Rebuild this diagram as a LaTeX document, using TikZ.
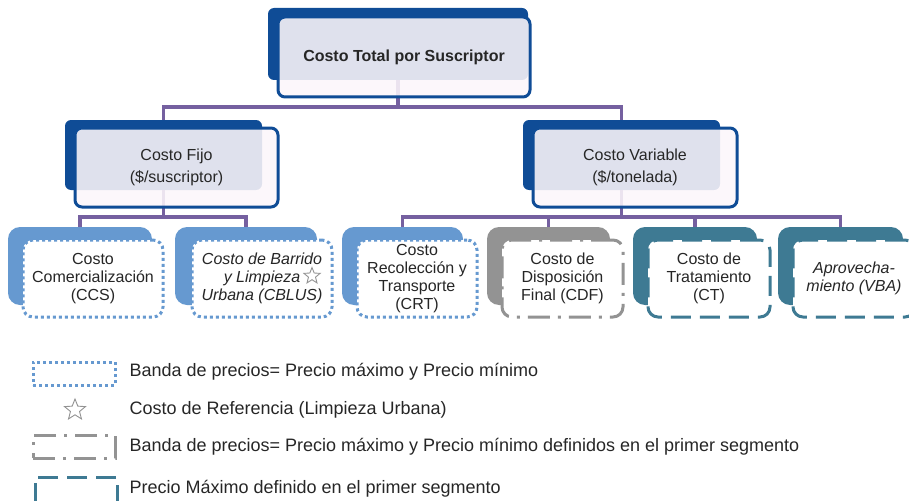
\documentclass[tikz,border=0pt]{standalone}
\usepackage{fontspec}
\setmainfont{Liberation Sans}
\usetikzlibrary{shapes.geometric}
\definecolor{darkblue}{HTML}{0F4C96}
\definecolor{lightblue}{HTML}{6699D0}
\definecolor{midgray}{HTML}{939393}
\definecolor{tealc}{HTML}{3E7A93}
\definecolor{connc}{HTML}{7560A0}
\definecolor{textc}{HTML}{262626}
\definecolor{veil}{RGB}{252,246,250}

\begin{document}
\begin{tikzpicture}[x=1pt,y=-1pt,font=\fontsize{16}{18}\selectfont,text=textc]
  \tikzstyle{backbig} = [rectangle, fill=darkblue, rounded corners=6pt, inner sep=0pt]
  \tikzstyle{frontbig} = [rectangle, draw=darkblue, line width=3pt, fill=veil, fill opacity=0.88,
                          text opacity=1, rounded corners=7pt, align=center, inner sep=0pt]
  \tikzstyle{backsmall} = [rectangle, rounded corners=12pt, inner sep=0pt, minimum height=78pt]
  \tikzstyle{frontsmall} = [rectangle, fill=white, line width=3pt, rounded corners=10pt,
                            align=center, inner sep=0pt, minimum height=77pt]
  \tikzstyle{banddots} = [draw=lightblue, dash pattern=on 3pt off 3pt]
  \tikzstyle{bandgray} = [draw=midgray, dash pattern=on 22pt off 8pt on 3pt off 8pt]
  \tikzstyle{maxdash} = [draw=tealc, dash pattern=on 20pt off 9pt]
  \tikzstyle{conn} = [draw=connc, line width=3.5pt]
  \tikzstyle{refstar} = [star, star points=5, star point ratio=2.3, draw=midgray, fill=white,
                         line width=0.9pt, inner sep=0pt]
  \tikzstyle{keytext} = [anchor=west, font=\fontsize{18}{20}\selectfont]
\useasboundingbox (0,0) rectangle (909,500);

% top level
\node[backbig, minimum width=260pt, minimum height=72pt] (totalb) at (398,44) {};
% second level
\node[backbig, minimum width=197pt, minimum height=70pt] (fijob) at (163.5,155) {};
\node[backbig, minimum width=197pt, minimum height=70pt] (varb) at (621.5,155) {};
% third level
\node[backsmall, fill=lightblue, minimum width=144pt] (ccsb) at (80,266) {};
\node[backsmall, fill=lightblue, minimum width=142pt] (cblusb) at (246,266) {};
\node[backsmall, fill=lightblue, minimum width=121pt] (crtb) at (402.5,266) {};
\node[backsmall, fill=midgray, minimum width=123pt] (cdfb) at (548.5,266) {};
\node[backsmall, fill=tealc, minimum width=124pt] (ctb) at (695,266) {};
\node[backsmall, fill=tealc, minimum width=125pt] (vbab) at (840.5,266) {};

\draw[conn] (totalb.south) -- ++(0,27) -| (fijob.north);
\draw[conn] (totalb.south) -- ++(0,27) -| (varb.north);
\draw[conn] (fijob.south) -- ++(0,27) -| (ccsb.north);
\draw[conn] (fijob.south) -- ++(0,27) -| (cblusb.north);
\draw[conn] (varb.south) -- ++(0,27) -| (crtb.north);
\draw[conn] (varb.south) -- ++(0,27) -| (cdfb.north);
\draw[conn] (varb.south) -- ++(0,27) -| (ctb.north);
\draw[conn] (varb.south) -- ++(0,27) -| (vbab.north);

\node[frontbig, minimum width=252pt, minimum height=80pt] (total) at (404,57)
  {\bfseries Costo Total por Suscriptor};
\node[frontbig, minimum width=203pt, minimum height=79pt] (fijo) at (176.5,167.5)
  {Costo Fijo\\[4pt](\$/suscriptor)};
\node[frontbig, minimum width=204pt, minimum height=79pt] (var) at (635,167.5)
  {Costo Variable\\[4pt](\$/tonelada)};

\node[frontsmall, banddots, minimum width=140pt] (ccs) at (93,278.5)
  {Costo\\Comercialización\\(CCS)};
\node[frontsmall, banddots, minimum width=140pt] (cblus) at (262,278.5)
  {\itshape Costo de Barrido\\\itshape y Limpieza\hspace{18pt}\\\itshape Urbana (CBLUS)};
\node[frontsmall, banddots, minimum width=120pt] (crt) at (417,278.5)
  {Costo\\Recolección y\\Transporte\\(CRT)};
\node[frontsmall, bandgray, minimum width=121pt] (cdf) at (562.5,278.5)
  {Costo de\\Disposición\\Final (CDF)};
\node[frontsmall, maxdash, minimum width=122pt] (ct) at (709,278.5)
  {Costo de\\Tratamiento\\(CT)};
\node[frontsmall, maxdash, minimum width=122pt] (vba) at (854,278.5)
  {\itshape Aprovecha-\\\itshape miento (VBA)};
\node[refstar, minimum size=17pt] (star) at (312,276) {};

% legend
\node[rectangle, banddots, line width=3pt, minimum width=82pt, minimum height=23pt] (keyband) at (74,373.5) {};
\node[keytext] (txtband) at (126,372) {Banda de precios= Precio máximo y Precio mínimo};
\node[refstar, minimum size=22pt] (keystar) at (75,410) {};
\node[keytext] (txtstar) at (126,410) {Costo de Referencia (Limpieza Urbana)};
\node[rectangle, bandgray, line width=3pt, minimum width=82pt, minimum height=23pt] (keygray) at (74,446.5) {};
\node[keytext] (txtgray) at (126,447) {Banda de precios= Precio máximo y Precio mínimo definidos en el primer segmento};
\node[rectangle, maxdash, line width=3pt, minimum width=82pt, minimum height=33pt] (keymax) at (76,493.5) {};
\node[keytext] (txtmax) at (126,489) {Precio Máximo definido en el primer segmento};
\end{tikzpicture}
\end{document}
